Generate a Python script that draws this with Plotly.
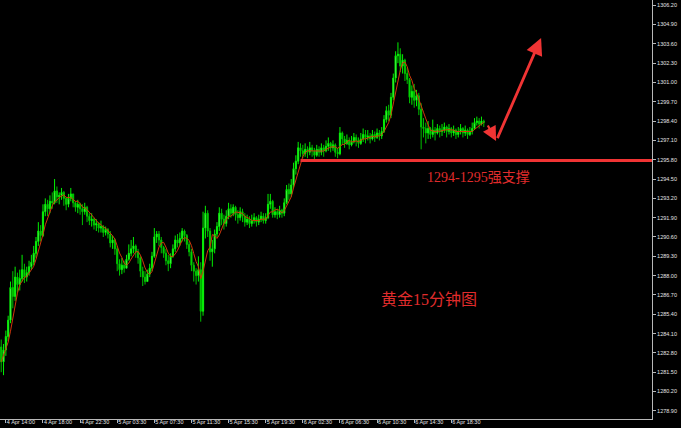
import plotly.graph_objects as go
import pandas as pd

# ---------------- data (gold, 15-minute bars) ----------------
first_open = 1283.2
closes = [
    1282.2, 1283.0, 1283.9,
    1285.0, 1287.2, 1286.6, 1287.9, 1287.4, 1287.8,
    1288.4, 1287.9, 1288.2, 1288.6, 1288.9, 1289.5,
    1290.3, 1291.0, 1290.7, 1292.3, 1292.8,
    1292.5, 1293.0, 1292.9, 1293.7, 1293.3,
    1293.4, 1293.6, 1293.2, 1292.8, 1293.2, 1293.5, 1292.9, 1292.6,
    1292.8, 1292.5, 1292.3, 1292.6, 1292.0, 1291.7, 1291.8, 1291.4, 1291.5,
    1291.2, 1291.3, 1290.9, 1291.1, 1290.8, 1290.2, 1290.4,
    1289.8, 1288.8, 1288.4, 1288.7, 1288.5,
    1289.1, 1289.5, 1289.8, 1290.0, 1289.6,
    1289.2, 1288.3, 1287.9, 1287.6, 1288.1, 1288.5,
    1289.3, 1290.6, 1290.8, 1290.4, 1289.9,
    1289.5, 1289.0, 1288.8, 1289.3,
    1289.8, 1290.4, 1290.2, 1290.5, 1291.0, 1290.7, 1290.1,
    1289.6, 1288.7, 1288.3, 1288.0, 1288.4,
    1285.6, 1291.2, 1292.2, 1291.0, 1289.6, 1289.8, 1290.8, 1291.3, 1292.2, 1291.8, 1291.5,
    1292.0, 1292.5, 1292.2, 1292.6, 1292.1, 1291.9, 1292.3, 1292.0, 1291.6, 1291.8, 1291.5, 1291.7, 1291.9, 1291.6, 1291.8, 1292.0, 1291.7, 1291.9,
    1292.8, 1293.0, 1292.1, 1292.3, 1292.1, 1292.4, 1292.2,
    1292.9, 1293.8, 1293.5, 1294.1, 1295.2, 1295.7, 1296.6, 1296.4,
    1296.2, 1296.5, 1296.3, 1296.6, 1296.4, 1296.1, 1296.5, 1296.3, 1296.6, 1296.4,
    1296.7, 1296.9, 1296.6, 1296.8, 1296.3, 1296.2, 1297.6,
    1297.2, 1296.9, 1297.1, 1296.8, 1297.0, 1297.3, 1297.1, 1296.9, 1297.2, 1297.5, 1297.3,
    1297.4, 1297.2, 1297.5, 1297.3, 1297.6, 1297.4, 1297.7,
    1298.5, 1299.1, 1298.8, 1300.0, 1301.3, 1302.8, 1302.9, 1302.1, 1302.5,
    1301.6, 1301.2, 1300.0, 1300.4, 1299.8, 1300.1, 1299.2, 1298.0, 1297.9,
    1297.6, 1297.9, 1297.5, 1297.8, 1297.6, 1297.9, 1297.7, 1297.8, 1298.0, 1297.7, 1297.9, 1297.6, 1297.8,
    1297.5, 1297.7, 1297.9, 1297.6, 1297.8, 1297.5, 1297.7, 1297.9, 1298.3, 1298.4, 1298.2, 1298.4, 1298.3,
]
highs = [
    1283.7, 1283.4, 1284.3,
    1285.3, 1287.6, 1288.3, 1288.6, 1288.2, 1288.4,
    1289.4, 1288.8, 1288.6, 1289.0, 1289.4, 1290.0,
    1290.6, 1291.6, 1291.4, 1292.8, 1293.2,
    1293.1, 1293.4, 1293.6, 1294.5, 1294.0,
    1293.6, 1293.9, 1293.7, 1293.3, 1293.5, 1293.9, 1293.5, 1293.0,
    1293.1, 1292.9, 1292.8, 1292.9, 1292.7, 1292.2, 1292.2, 1291.9, 1291.8,
    1291.6, 1291.7, 1291.4, 1291.3, 1291.2, 1291.0, 1290.7,
    1290.5, 1290.0, 1289.1, 1289.2, 1289.0,
    1289.4, 1290.1, 1290.4, 1290.6, 1290.1,
    1289.8, 1289.3, 1288.6, 1288.3, 1288.4, 1288.8,
    1289.6, 1291.2, 1291.0, 1291.0, 1290.6,
    1290.0, 1289.8, 1289.4, 1289.5,
    1290.1, 1290.7, 1290.8, 1290.9, 1291.2, 1291.1, 1290.8,
    1290.3, 1289.8, 1288.9, 1288.5, 1289.3,
    1288.9, 1292.3, 1292.7, 1292.4, 1291.2, 1290.4, 1291.1, 1291.6, 1292.6, 1292.5, 1292.1,
    1292.4, 1292.9, 1292.8, 1292.8, 1292.7, 1292.4, 1292.6, 1292.5, 1292.2, 1292.1, 1292.0, 1292.1, 1292.2, 1292.0, 1292.1, 1292.3, 1292.2, 1292.2,
    1293.5, 1293.5, 1293.1, 1292.6, 1292.5, 1292.7, 1292.5,
    1293.2, 1294.1, 1294.2, 1294.5, 1295.6, 1296.1, 1297.0, 1296.9,
    1296.8, 1296.9, 1296.7, 1297.0, 1296.8, 1296.6, 1296.8, 1296.7, 1296.9, 1296.8,
    1297.1, 1297.3, 1297.0, 1297.1, 1296.9, 1296.6, 1298.0,
    1297.7, 1297.4, 1297.5, 1297.3, 1297.4, 1297.6, 1297.5, 1297.3, 1297.6, 1297.9, 1297.8,
    1297.8, 1297.6, 1297.8, 1297.7, 1297.9, 1297.8, 1298.0,
    1298.8, 1299.4, 1299.5, 1300.3, 1301.6, 1303.1, 1303.7, 1303.3, 1302.9,
    1302.6, 1302.0, 1301.3, 1300.8, 1300.9, 1300.5, 1300.3, 1299.6, 1298.6,
    1298.3, 1298.4, 1298.0, 1298.5, 1298.0, 1298.2, 1298.1, 1298.2, 1298.3, 1298.1, 1298.2, 1298.0, 1298.1,
    1297.9, 1298.0, 1298.2, 1298.0, 1298.1, 1297.9, 1298.0, 1298.3, 1298.6, 1298.7, 1298.6, 1298.7, 1298.5,
]
lows = [
    1281.5, 1281.3, 1282.6,
    1283.6, 1284.8, 1285.8, 1286.3, 1286.9, 1287.0,
    1287.6, 1287.5, 1287.6, 1288.0, 1288.4, 1288.7,
    1289.2, 1290.0, 1290.3, 1290.6, 1292.0,
    1292.0, 1292.2, 1292.5, 1292.8, 1292.9,
    1292.8, 1293.1, 1292.7, 1292.4, 1292.6, 1293.0, 1292.6, 1292.3,
    1292.2, 1292.1, 1291.4, 1292.1, 1291.6, 1291.4, 1291.3, 1291.1, 1291.0,
    1290.9, 1290.9, 1290.6, 1290.7, 1290.5, 1289.9, 1289.8,
    1289.4, 1288.3, 1288.0, 1288.1, 1288.2,
    1288.5, 1289.0, 1289.3, 1289.5, 1289.2,
    1288.8, 1287.9, 1287.3, 1287.4, 1287.6, 1287.9,
    1288.3, 1289.2, 1290.2, 1290.0, 1289.5,
    1289.2, 1288.7, 1288.3, 1288.5,
    1289.2, 1289.6, 1289.9, 1290.0, 1290.3, 1290.3, 1289.8,
    1289.3, 1288.3, 1287.6, 1287.4, 1287.6,
    1284.9, 1285.3, 1290.5, 1290.6, 1289.0, 1288.6, 1289.5, 1290.6, 1291.0, 1291.4, 1291.1,
    1291.3, 1291.8, 1291.9, 1292.0, 1291.7, 1291.5, 1291.7, 1291.6, 1291.3, 1291.4, 1291.2, 1291.3, 1291.5, 1291.3, 1291.4, 1291.6, 1291.5, 1291.5,
    1291.8, 1292.5, 1291.9, 1291.9, 1291.8, 1291.9, 1291.9,
    1292.0, 1292.8, 1293.1, 1293.3, 1293.9, 1294.8, 1295.5, 1296.0,
    1295.9, 1296.0, 1295.9, 1296.1, 1296.0, 1295.8, 1296.0, 1296.0, 1296.1, 1296.0,
    1296.3, 1296.4, 1296.3, 1296.4, 1296.0, 1295.9, 1296.1,
    1296.8, 1296.6, 1296.8, 1296.5, 1296.7, 1296.9, 1296.7, 1296.6, 1296.8, 1297.0, 1296.9,
    1297.1, 1296.9, 1297.1, 1297.0, 1297.2, 1297.1, 1297.2,
    1297.6, 1298.3, 1298.4, 1298.6, 1299.8, 1301.0, 1302.3, 1301.7, 1301.6,
    1301.1, 1300.9, 1299.6, 1299.5, 1299.3, 1299.4, 1298.8, 1296.5, 1297.3,
    1296.9, 1297.2, 1297.2, 1297.3, 1297.1, 1297.5, 1297.3, 1297.4, 1297.6, 1297.3, 1297.5, 1297.3, 1297.4,
    1297.2, 1297.3, 1297.5, 1297.3, 1297.4, 1297.2, 1297.4, 1297.5, 1297.8, 1298.1, 1297.9, 1298.1, 1298.0,
]
x_tick_labels = ["4 Apr 14:00", "4 Apr 18:00", "4 Apr 22:30", "5 Apr 03:30", "5 Apr 07:30",
                 "5 Apr 11:30", "5 Apr 15:30", "5 Apr 19:30", "6 Apr 02:30", "6 Apr 06:30",
                 "6 Apr 10:30", "6 Apr 14:30", "6 Apr 18:30"]
x_tick_bars = [2, 18, 34, 50, 66, 82, 98, 114, 130, 146, 162, 178, 194]
y_tick_values = [round(1278.9 + 1.3 * k, 2) for k in range(22)]
support_level = 1295.75
ma_period = 5

# ---------------- build ----------------
n = len(closes)
opens = [first_open] + closes[:-1]
highs = [max(h, o, c) for h, o, c in zip(highs, opens, closes)]
lows = [min(l, o, c) for l, o, c in zip(lows, opens, closes)]
idx = list(range(n))
ma = pd.Series(closes).rolling(ma_period, min_periods=1).mean().tolist()

x_min, x_max = -0.52, 280.5
y_min, y_max = 1278.35, 1306.55

fig = go.Figure()
fig.add_trace(go.Candlestick(
    x=idx, open=opens, high=highs, low=lows, close=closes,
    increasing=dict(line=dict(color="#00f000", width=1), fillcolor="#a0ffa0"),
    decreasing=dict(line=dict(color="#00c000", width=1), fillcolor="#00ff00"),
    whiskerwidth=0, showlegend=False, hoverinfo="skip",
))
fig.add_trace(go.Scatter(
    x=idx, y=ma, mode="lines", line=dict(color="#d0360c", width=1),
    showlegend=False, hoverinfo="skip",
))

red = "#f03434"
fig.add_shape(type="line", xref="x", yref="y", x0=129, x1=x_max,
              y0=support_level, y1=support_level, line=dict(color=red, width=3))

# forecast arrows
fig.add_annotation(xref="x", yref="y", axref="x", ayref="y",
                   ax=209.4, ay=1298.2, x=213.3, y=1297.06, text="",
                   showarrow=True, arrowhead=2, arrowsize=1.3, arrowwidth=2.2, arrowcolor=red)
fig.add_annotation(xref="x", yref="y", axref="x", ayref="y",
                   ax=213.6, ay=1297.15, x=232.7, y=1304.0, text="",
                   showarrow=True, arrowhead=2, arrowsize=1.2, arrowwidth=2.8, arrowcolor=red)

txt_font = "Liberation Serif, Noto Sans CJK SC, serif"
fig.add_annotation(xref="paper", yref="paper", x=478.5 / 652, y=1 - 178 / 419,
                   xanchor="center", yanchor="middle",
                   text="1294-1295强支撑", showarrow=False,
                   font=dict(family=txt_font, size=14, color="#e02c2c"))
fig.add_annotation(xref="paper", yref="paper", x=428.5 / 652, y=1 - 299.5 / 419,
                   xanchor="center", yanchor="middle",
                   text="黄金15分钟图", showarrow=False,
                   font=dict(family=txt_font, size=16, color="#e02c2c"))

axis_font = dict(family="Liberation Sans, Arial, sans-serif", size=5.5, color="#e4e4e4")
fig.update_xaxes(range=[x_min, x_max], showgrid=False, zeroline=False,
                 showline=True, linecolor="#b8b8b8", linewidth=1,
                 ticks="outside", ticklen=3, tickcolor="#b8b8b8",
                 tickvals=x_tick_bars, ticktext=x_tick_labels, tickangle=0,
                 ticklabelposition="outside right", ticklabelstandoff=-3,
                 tickfont=axis_font, rangeslider=dict(visible=False),
                 automargin=False, fixedrange=True)
fig.update_yaxes(range=[y_min, y_max], side="right", showgrid=False, zeroline=False,
                 showline=True, linecolor="#b8b8b8", linewidth=1,
                 ticks="outside", ticklen=3, tickcolor="#b8b8b8",
                 tickvals=y_tick_values, ticktext=[f"{v:.2f}" for v in y_tick_values],
                 tickfont=axis_font, automargin=False, fixedrange=True)

fig.update_layout(
    width=681, height=428,
    margin=dict(l=0, r=29, t=0, b=9),
    paper_bgcolor="#000000", plot_bgcolor="#000000",
    showlegend=False,
)

fig.write_html(
    "out.html",
    config={"displayModeBar": False},
    post_script="document.body.style.margin='0';document.body.style.background='#000';",
)
